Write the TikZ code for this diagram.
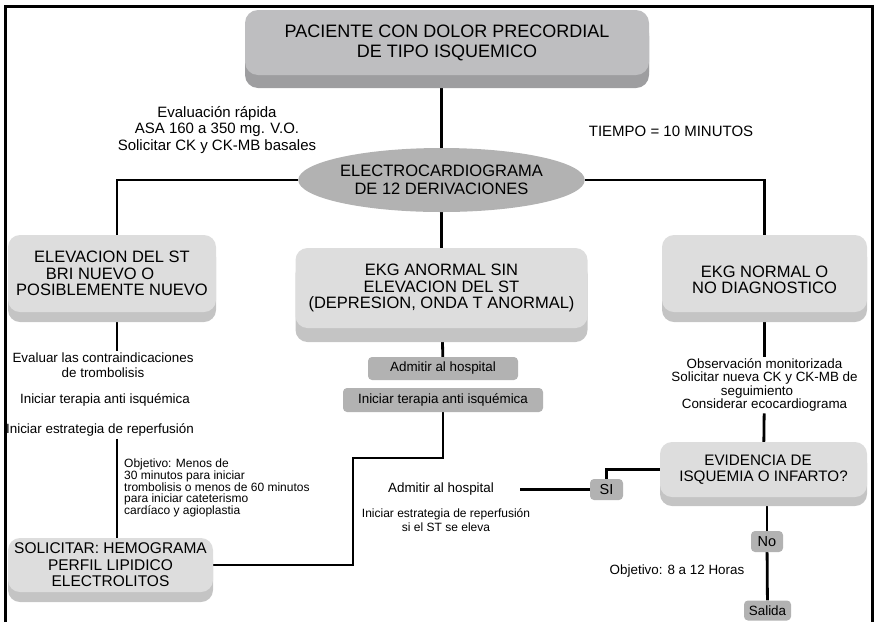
\documentclass[tikz,border=0pt]{standalone}
\usepackage{fontspec}
\setmainfont{Liberation Sans}
\usetikzlibrary{shapes.geometric, shadows, backgrounds, calc, positioning}

\definecolor{cara}{RGB}{221,221,221}
\definecolor{base}{RGB}{196,196,196}
\definecolor{caraosc}{RGB}{190,190,192}
\definecolor{baseosc}{RGB}{158,158,160}
\definecolor{gris}{RGB}{178,178,178}

\begin{document}
\begin{tikzpicture}[x=1pt, y=-1pt,
        caja/.style={fill=cara, rounded corners=12pt, inner sep=0pt, align=center,
            font=\fontsize{16.5}{16.5}\selectfont, general shadow={fill=base, shadow yshift=-#1}},
        caja/.default=10pt,
        cajita/.style={fill=gris, rounded corners=4pt, inner sep=0pt, align=center,
            font=\fontsize{13.4}{15}\selectfont},
        nota/.style={inner sep=2pt, align=center, font=\fontsize{13.4}{15}\selectfont},
        linea/.style={line width=2.8pt}]
                        \useasboundingbox (0, 0) rectangle (874, 622);
                        \draw[line width=3pt] (5.5, 622) -- (5.5, 6) -- (872.5, 6) -- (872.5, 622);

                        \node[caja, fill=caraosc, general shadow={fill=baseosc, shadow yshift=-13pt}, rounded corners=13pt, minimum width=404, minimum height=65, font=\fontsize{18}{20}\selectfont] (paciente) at (447, 42.5) {PACIENTE CON DOLOR PRECORDIAL\\DE TIPO ISQUEMICO};
                        \node[nota, font=\fontsize{15}{16.5}\selectfont] (eval) at (217, 130) {Evaluación rápida\\ASA 160 a 350 mg. V.O.\\Solicitar CK y CK-MB basales};
                        \node[nota, font=\fontsize{15}{16.5}\selectfont] (tiempo) at (671, 131) {TIEMPO = 10 MINUTOS};
                        \node[ellipse, fill=gris, inner sep=0pt, minimum width=245, minimum height=64, align=center, font=\fontsize{16.5}{18}\selectfont] (ecg) at (441.5, 180) {ELECTROCARDIOGRAMA\\DE 12 DERIVACIONES};

                        \node[caja, minimum width=208, minimum height=77] (elev) at (112, 273.5) {ELEVACION DEL ST\\BRI NUEVO O\phantom{NU}\\POSIBLEMENTE NUEVO};
                        \node[caja=14pt, minimum width=292, minimum height=80] (anormal) at (441.5, 288) {EKG ANORMAL SIN\\ELEVACION DEL ST\\(DEPRESION, ONDA T ANORMAL)};
                        \node[caja, minimum width=205, minimum height=77] (normal) at (764.5, 273.5) {\rule{0pt}{24pt}EKG NORMAL O\\NO DIAGNOSTICO};

                        \node[nota] (evaluar) at (103, 365.5) {Evaluar las contraindicaciones\\de trombolisis};
                        \node[nota] (terapia) at (105, 400) {Iniciar terapia anti isquémica};
                        \node[nota] (estrategia) at (100, 430) {Iniciar estrategia de reperfusión};
                        \node[nota, anchor=north west, align=left, font=\fontsize{12}{11.6}\selectfont] (objetivo) at (122, 457) {Objetivo: Menos de\\30 minutos para iniciar\\trombolisis o menos de 60 minutos\\para iniciar cateterismo\\cardíaco y agioplastia};
                        \node[caja, minimum width=205, minimum height=54, font=\fontsize{15.5}{16.5}\selectfont] (solicitar) at (110.5, 565) {SOLICITAR: HEMOGRAMA\\PERFIL LIPIDICO\\ELECTROLITOS};

                        \node[cajita, minimum width=150, minimum height=23] (admitir) at (443, 368.5) {Admitir al hospital};
                        \node[cajita, minimum width=200, minimum height=24] (iniciar) at (443, 400) {Iniciar terapia anti isquémica};
                        \coordinate (giro) at (353, 458);
                        \node[nota] (hospital) at (441, 489.5) {Admitir al hospital};
                        \node[nota, font=\fontsize{12}{14}\selectfont] (reperfusion) at (446, 520) {Iniciar estrategia de reperfusión\\si el ST se eleva};

                        \node[nota, font=\fontsize{13.4}{13.3}\selectfont] (observ) at (764.5, 385) {Observación monitorizada\\Solicitar nueva CK y CK-MB de\\seguimiento\phantom{nn}\\Considerar ecocardiograma};
                        \node[caja=9pt, minimum width=207, minimum height=55, font=\fontsize{15.2}{16}\selectfont] (evidencia) at (763.5, 469.5) {EVIDENCIA DE\phantom{N}\\ISQUEMIA O INFARTO?};
                        \node[cajita, minimum width=33, minimum height=21, font=\fontsize{14.5}{15}\selectfont] (si) at (606.5, 489.5) {SI};
                        \node[cajita, minimum width=32, minimum height=21, font=\fontsize{14.5}{15}\selectfont] (no) at (767, 541.5) {No};
                        \node[nota] (horas) at (677, 571) {Objetivo: 8 a 12 Horas};
                        \node[cajita, minimum width=47, minimum height=20] (salida) at (767.5, 610.5) {Salida};

                        \begin{scope}[on background layer]
                        \draw[linea]
                        (ecg |- paciente.south) edge (ecg)
                        (ecg) edge (anormal)
                        (anormal) edge (admitir)
                        (normal) edge (observ)
                        (observ) edge (evidencia)
                        (no |- evidencia.south) edge (no)
                        (no) edge (salida)
                        (si.west) edge ([xshift=24]hospital.east);
                        \draw[linea] (ecg.west) -| ([xshift=5]elev.north);
                        \draw[linea] (ecg.east) -| (normal.north);
                        \draw[linea] ([xshift=5]elev.south) -- ([xshift=5]elev.south |- evaluar.north);
                        \draw[linea] ([xshift=5]elev.south |- estrategia.south) -- ([xshift=5]elev.south |- solicitar.north);
                        \draw[linea] (iniciar.south) |- (giro) |- (solicitar.east);
                        \draw[linea] (evidencia.west) -| (si.north);
                        \end{scope}
                    \end{tikzpicture}
\end{document}
